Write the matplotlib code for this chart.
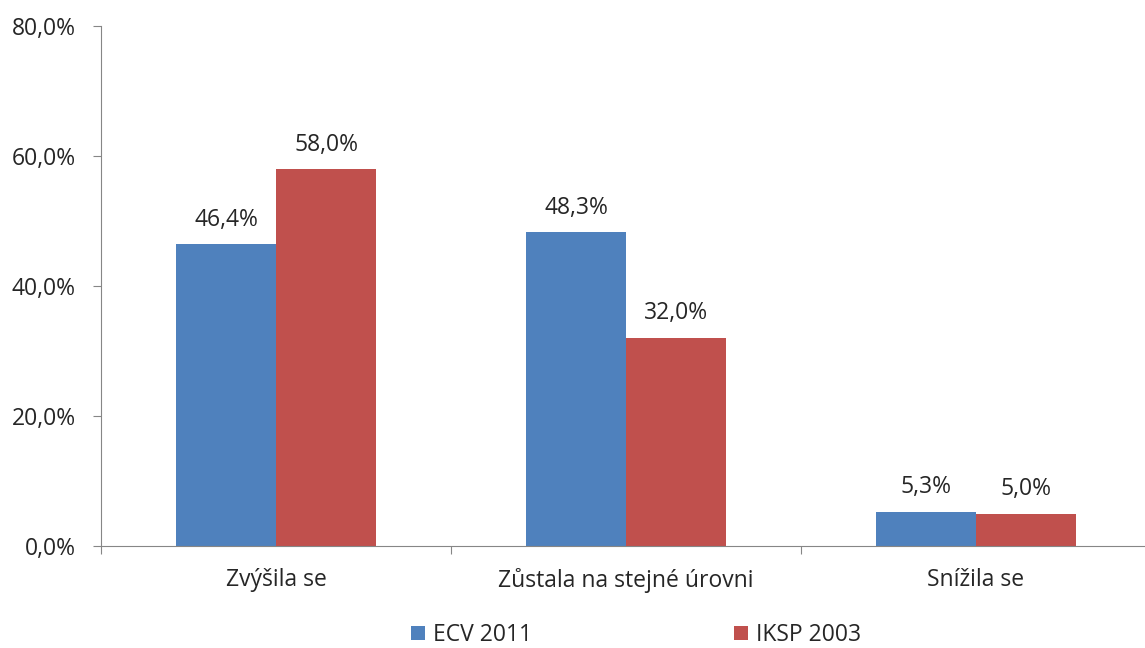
import matplotlib.pyplot as plt
import numpy as np
from matplotlib.ticker import FuncFormatter

plt.rcParams['font.family'] = ['Open Sans', 'DejaVu Sans']

# Data
categories = ['Zvýšila se', 'Zůstala na stejné úrovni', 'Snížila se']
ecv_2011 = [46.4, 48.3, 5.3]
iksp_2003 = [58.0, 32.0, 5.0]
series_names = ['ECV 2011', 'IKSP 2003']
yticks = [0, 20, 40, 60, 80]

blue = '#4F81BD'
red = '#C0504D'
axis_col = '#868686'
text_col = '#262626'
fs = 16.5

fig = plt.figure(figsize=(11.45, 6.48), dpi=100)
ax = fig.add_axes([101 / 1145, 102 / 648, 1050 / 1145, 520 / 648])

x = np.arange(len(categories))
w = 1 / 3.5
b1 = ax.bar(x - w / 2, ecv_2011, w, color=blue, label=series_names[0])
b2 = ax.bar(x + w / 2, iksp_2003, w, color=red, label=series_names[1])

def fmt(v):
    return f'{v:.1f}%'.replace('.', ',')

for bars, vals in [(b1, ecv_2011), (b2, iksp_2003)]:
    for bar, v in zip(bars, vals):
        ax.annotate(fmt(v), (bar.get_x() + bar.get_width() / 2, v),
                    xytext=(0, 9), textcoords='offset points',
                    ha='center', va='bottom', fontsize=fs, color=text_col)

ax.set_ylim(0, 80)
ax.set_yticks(yticks)
ax.yaxis.set_major_formatter(FuncFormatter(lambda v, p: fmt(v)))
ax.set_xlim(-0.5, 2.5)
ax.set_xticks([-0.5, 0.5, 1.5, 2.5])
ax.set_xticklabels([])
ax.set_xticks(x, minor=True)
ax.set_xticklabels(categories, minor=True)
ax.tick_params(axis='x', which='minor', length=0, pad=16, labelsize=fs, labelcolor=text_col)
ax.tick_params(axis='x', which='major', length=6, direction='out', color=axis_col)
ax.tick_params(axis='y', length=6, direction='out', color=axis_col, labelsize=fs,
               labelcolor=text_col, pad=12)

for s in ['top', 'right']:
    ax.spines[s].set_visible(False)
for s in ['left', 'bottom']:
    ax.spines[s].set_color(axis_col)

fig.legend(handles=[b1, b2], loc='center', bbox_to_anchor=(636 / 1145, 1 - 635 / 648),
           ncol=2, frameon=False, fontsize=fs, handlelength=0.6, handleheight=0.6,
           handletextpad=0.35, columnspacing=8.8, labelcolor=text_col)

fig.savefig('out.png', dpi=100)
